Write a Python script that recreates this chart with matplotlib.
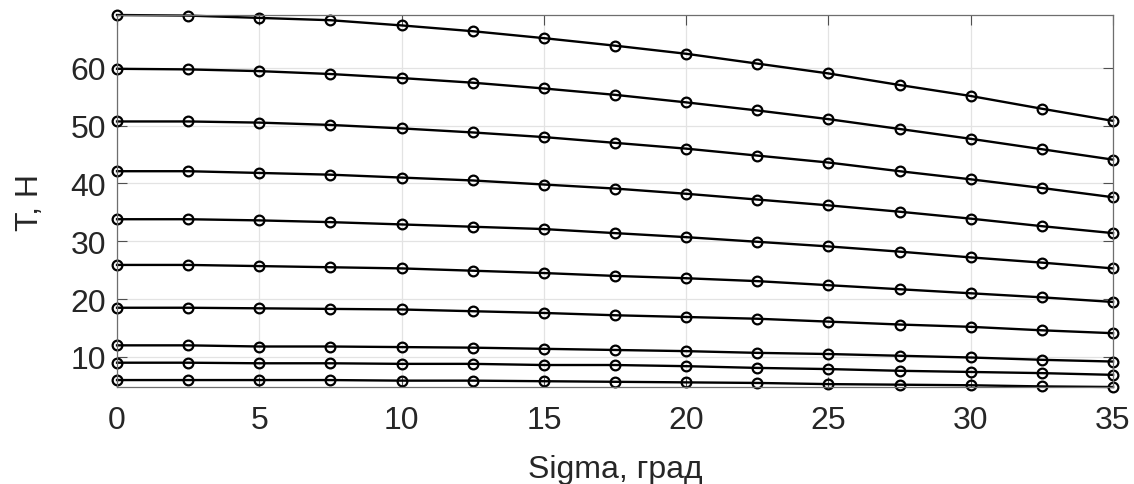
import numpy as np
import matplotlib.pyplot as plt

# угол sigma, град
sigma = [0, 2.5, 5, 7.5, 10, 12.5, 15, 17.5, 20, 22.5, 25, 27.5, 30, 32.5, 35]

# натяжение T, Н (кривые сверху вниз)
t1 = [69.1, 69.0, 68.6, 68.2, 67.3, 66.3, 65.1, 63.8, 62.4, 60.7, 59.0, 57.0, 55.1, 52.9, 50.8]
t2 = [59.8, 59.7, 59.4, 58.9, 58.2, 57.4, 56.4, 55.3, 54.0, 52.6, 51.1, 49.4, 47.7, 45.9, 44.1]
t3 = [50.7, 50.7, 50.5, 50.1, 49.5, 48.8, 48.0, 47.0, 46.0, 44.8, 43.6, 42.1, 40.7, 39.2, 37.6]
t4 = [42.1, 42.1, 41.8, 41.5, 41.0, 40.5, 39.8, 39.1, 38.2, 37.2, 36.2, 35.1, 33.9, 32.6, 31.4]
t5 = [33.8, 33.8, 33.6, 33.3, 32.9, 32.5, 32.1, 31.4, 30.7, 29.9, 29.1, 28.2, 27.2, 26.3, 25.3]
t6 = [25.9, 25.9, 25.7, 25.5, 25.3, 24.9, 24.5, 24.0, 23.6, 23.1, 22.4, 21.7, 21.0, 20.3, 19.5]
t7 = [18.5, 18.5, 18.4, 18.3, 18.2, 17.9, 17.6, 17.2, 16.9, 16.6, 16.1, 15.6, 15.2, 14.6, 14.1]
t8 = [12.0, 12.0, 11.8, 11.8, 11.7, 11.6, 11.4, 11.2, 11.0, 10.7, 10.5, 10.2, 9.9, 9.5, 9.2]
t9 = [9.0, 9.0, 8.9, 8.9, 8.8, 8.8, 8.6, 8.6, 8.4, 8.1, 7.9, 7.6, 7.4, 7.2, 6.9]
t10 = [6.0, 6.0, 6.0, 6.0, 5.9, 5.9, 5.8, 5.7, 5.6, 5.5, 5.3, 5.2, 5.1, 4.9, 4.8]
curves = [t1, t2, t3, t4, t5, t6, t7, t8, t9, t10]

xticks = [0, 5, 10, 15, 20, 25, 30, 35]
yticks = [10, 20, 30, 40, 50, 60]

plt.rcParams['font.family'] = ['Liberation Sans', 'DejaVu Sans']

fig = plt.figure(figsize=(11.34, 4.85), dpi=100)
ax = fig.add_axes([0.1032, 0.2, 0.8783, 0.767])

for t in curves:
    ax.plot(sigma, t, '-o', color='black', lw=1.7, ms=7, mfc='none', mew=1.6, clip_on=False)

ax.set_xlim(0, 35)
ax.set_ylim(4.8, 69.1)
ax.set_xticks(xticks)
ax.set_yticks(yticks)
ax.grid(True, color='#e3e3e3', lw=0.9)
ax.set_axisbelow(True)
ax.tick_params(direction='in', length=7, width=0.8, color='#505050', labelcolor='#262626',
               labelsize=23, top=True, right=True)
ax.tick_params(axis='x', pad=13)
ax.tick_params(axis='y', pad=8)
for s in ax.spines.values():
    s.set_color('#6e6e6e')
    s.set_linewidth(0.9)

ax.set_xlabel('Sigma, град', fontsize=23, color='#262626', labelpad=14)
ax.set_ylabel('T, H', fontsize=23, color='#262626', labelpad=18)

fig.savefig('out.png', dpi=100)
